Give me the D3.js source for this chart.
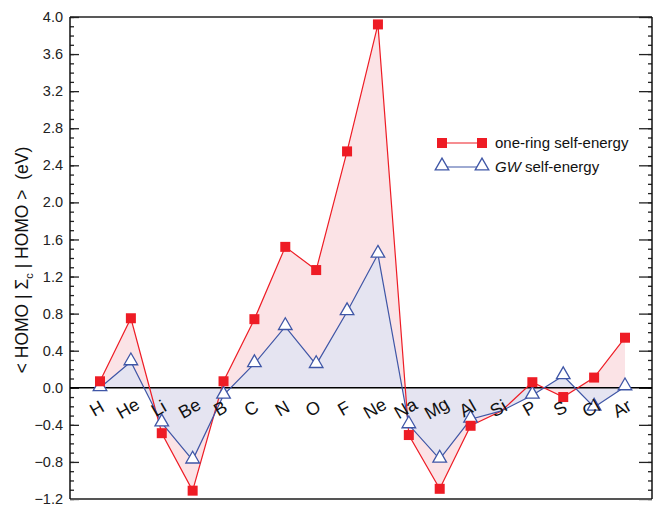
<!DOCTYPE html>
<html>
<head>
<meta charset="utf-8">
<script src="https://cdn.jsdelivr.net/npm/d3@7"></script>
<style>
  body { margin: 0; background: #fff; }
  svg text { font-family: "Liberation Sans", Arial, Helvetica, sans-serif; }
</style>
</head>
<body>
<svg class="chart" width="653" height="506"></svg>
<script>
// elements along the x axis
var elements = ["H", "He", "Li", "Be", "B", "C", "N", "O", "F", "Ne", "Na", "Mg", "Al", "Si", "P", "S", "Cl", "Ar"];
// <HOMO|Sigma_c|HOMO> in eV
var oneRing = [0.07, 0.75, -0.49, -1.11, 0.07, 0.74, 1.52, 1.27, 2.55, 3.92, -0.51, -1.09, -0.41, -0.25, 0.06, -0.10, 0.11, 0.54];
var gw = [0.0, 0.28, -0.38, -0.78, -0.08, 0.26, 0.66, 0.25, 0.82, 1.44, -0.40, -0.77, -0.34, -0.25, -0.08, 0.13, -0.21, 0.01];
var yTicks = [-1.2, -0.8, -0.4, 0.0, 0.4, 0.8, 1.2, 1.6, 2.0, 2.4, 2.8, 3.2, 3.6, 4.0];

var margin = {top: 17, right: 0, bottom: 7, left: 70},
    width = 652 - margin.left,
    height = 506 - margin.top - margin.bottom;

var svg = d3.select(".chart");
var chart = svg.append("g")
  .attr("transform", "translate(" + margin.left + "," + margin.top + ")");

var x = d3.scalePoint().domain(elements).range([30, 555]);
var y = d3.scaleLinear().domain([-1.2, 4.0]).range([height, 0]);

var red = "#ee1c25", blue = "#3f56a6";

// shaded areas down to zero
var area = function (vals) {
  return d3.area()
    .x(function (d, i) { return x(elements[i]); })
    .y0(y(0))
    .y1(function (d) { return y(d); })(vals);
};
chart.append("path").attr("d", area(oneRing)).attr("fill", "#fbe3e6");
chart.append("path").attr("d", area(gw)).attr("fill", "#e5e4f1");

// axes: ticks pointing inward, minor every 0.1
var minor = d3.range(-12, 41).map(function (d) { return d / 10; });
chart.append("g").call(d3.axisRight(y).tickValues(minor).tickSize(4).tickFormat(""));
chart.append("g").call(d3.axisRight(y).tickValues(yTicks).tickSize(9).tickFormat(""));
chart.append("g").attr("transform", "translate(" + width + ",0)")
  .call(d3.axisLeft(y).tickValues(minor).tickSize(4).tickFormat(""));
chart.append("g").attr("transform", "translate(" + width + ",0)")
  .call(d3.axisLeft(y).tickValues(yTicks).tickSize(13).tickFormat(""));
chart.selectAll(".domain").remove();
chart.selectAll(".tick line").attr("stroke", "#222").attr("stroke-width", 1.3);

chart.selectAll(".ylab").data(yTicks).enter().append("text")
  .attr("x", -7).attr("y", function (d) { return y(d); })
  .attr("dy", "0.35em").attr("text-anchor", "end")
  .attr("font-size", 14.5).attr("fill", "#222")
  .text(function (d) { return d3.format(".1f")(d); });

// frame
chart.append("line").attr("x1", 0).attr("x2", width).attr("y1", 0).attr("y2", 0).attr("stroke", "#222").attr("stroke-width", 1.5);
chart.append("line").attr("x1", 0).attr("x2", width).attr("y1", height).attr("y2", height).attr("stroke", "#555").attr("stroke-width", 2);
chart.append("line").attr("x1", 0).attr("x2", 0).attr("y1", 0).attr("y2", height).attr("stroke", "#111").attr("stroke-width", 1.5);
chart.append("line").attr("x1", width).attr("x2", width).attr("y1", 0).attr("y2", height).attr("stroke", "#111").attr("stroke-width", 1.5);
// zero line
chart.append("line").attr("x1", 0).attr("x2", width).attr("y1", y(0)).attr("y2", y(0)).attr("stroke", "#000").attr("stroke-width", 1.6);

// series lines
var line = d3.line().x(function (d, i) { return x(elements[i]); }).y(function (d) { return y(d); });
chart.append("path").attr("d", line(oneRing)).attr("fill", "none").attr("stroke", red).attr("stroke-width", 1.2);
chart.append("path").attr("d", line(gw)).attr("fill", "none").attr("stroke", blue).attr("stroke-width", 1.2);

// markers (Si hidden by its label in the original)
var pts = function (vals) {
  return vals.map(function (v, i) { return {el: elements[i], v: v}; })
    .filter(function (d) { return d.el !== "Si"; });
};
var tri = d3.symbol().type(d3.symbolTriangle).size(80);
chart.selectAll(".tri").data(pts(gw)).enter().append("path").attr("d", tri)
  .attr("transform", function (d) { return "translate(" + x(d.el) + "," + (y(d.v) - 1) + ")"; })
  .attr("fill", "#fff").attr("stroke", blue).attr("stroke-width", 1.3);
chart.selectAll(".sq").data(pts(oneRing)).enter().append("rect")
  .attr("x", function (d) { return x(d.el) - 5; })
  .attr("y", function (d) { return y(d.v) - 5; })
  .attr("width", 10).attr("height", 10).attr("fill", red);

// element labels
chart.selectAll(".xlab").data(elements).enter().append("text")
  .attr("transform", function (d) { return "translate(" + x(d) + "," + (y(0) + 26) + ") rotate(-30)"; })
  .attr("text-anchor", "middle").attr("font-size", 18).attr("fill", "#111")
  .text(function (d) { return d; });

// y title
var yt = svg.append("text")
  .attr("transform", "translate(28,260) rotate(-90)")
  .attr("text-anchor", "middle").attr("font-size", 17.5).attr("fill", "#111")
  .attr("xml:space", "preserve");
yt.append("tspan").text("< HOMO | \u03A3");
yt.append("tspan").attr("font-size", 11).attr("dy", 5).text("c");
yt.append("tspan").attr("dy", -5).text(" | HOMO >  (eV)");

// legend
var lg = svg.append("g").attr("transform", "translate(436,143)");
lg.append("line").attr("x1", 6).attr("x2", 46).attr("y1", 0).attr("y2", 0).attr("stroke", red).attr("stroke-width", 1.2);
[6, 46].forEach(function (px) {
  lg.append("rect").attr("x", px - 5).attr("y", -5).attr("width", 10).attr("height", 10).attr("fill", red);
});
lg.append("text").attr("x", 59).attr("y", 5).attr("font-size", 15).attr("fill", "#111").text("one-ring self-energy");
lg.append("line").attr("x1", 6).attr("x2", 46).attr("y1", 24).attr("y2", 24).attr("stroke", blue).attr("stroke-width", 1.2);
[6, 46].forEach(function (px) {
  lg.append("path").attr("d", tri).attr("transform", "translate(" + px + ",23)")
    .attr("fill", "#fff").attr("stroke", blue).attr("stroke-width", 1.3);
});
var gt = lg.append("text").attr("x", 59).attr("y", 29).attr("font-size", 15).attr("fill", "#111");
gt.append("tspan").attr("font-style", "italic").text("GW");
gt.append("tspan").text(" self-energy");
</script>
</body>
</html>
